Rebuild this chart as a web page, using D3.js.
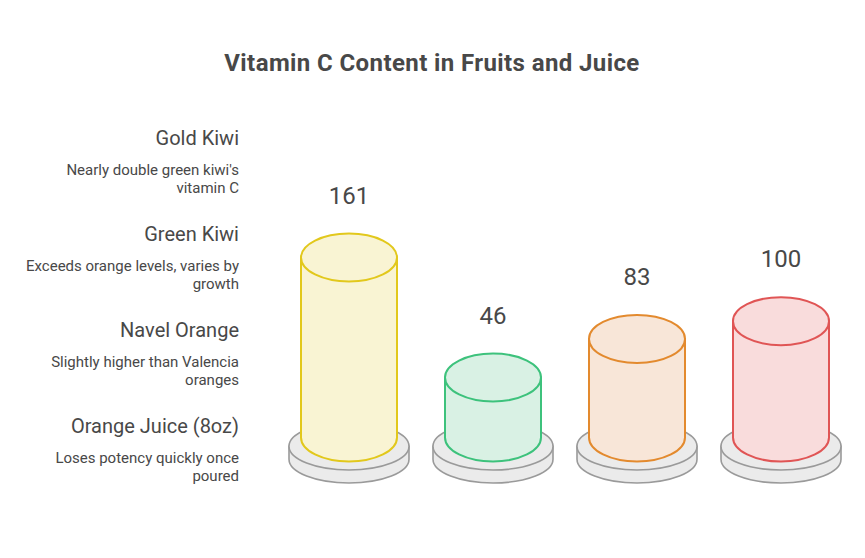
<!DOCTYPE html>
<html>
<head>
<meta charset="utf-8">
<script src="https://cdn.jsdelivr.net/npm/d3@7"></script>
<style>
  body { margin: 0; background: #fff; }
  svg text { font-family: Roboto, "Noto Sans", sans-serif; }
</style>
</head>
<body>
<svg id="chart"></svg>
<script>
var categories = ["Gold Kiwi", "Green Kiwi", "Navel Orange", "Orange Juice (8oz)"];
var values = [161, 46, 83, 100];
var notes = [
  ["Nearly double green kiwi's", "vitamin C"],
  ["Exceeds orange levels, varies by", "growth"],
  ["Slightly higher than Valencia", "oranges"],
  ["Loses potency quickly once", "poured"]
];
var strokes = ["#e2c81c", "#3dc27c", "#e38a2e", "#e05555"];
var fills = ["#f9f4d3", "#d9f1e4", "#f8e6d8", "#f9dcdc"];

var width = 865;
var height = 558;
var base = 437.5;   // centre of cylinder bottoms
var rx = 48, ry = 24;

var svg = d3.select("#chart")
            .attr("width", width)
            .attr("height", height);

svg.append("text")
   .attr("x", 432)
   .attr("y", 71)
   .attr("text-anchor", "middle")
   .attr("font-size", 24)
   .attr("font-weight", "bold")
   .attr("letter-spacing", 0.4)
   .attr("fill", "#484848")
   .text("Vitamin C Content in Fruits and Juice");

var x = d3.scalePoint()
          .domain(categories)
          .range([349, 781]);

var y = d3.scaleLinear()
          .domain([0, 161])
          .range([base - 12, base - 180]);

// left side labels
var ly = d3.scalePoint()
           .domain(categories)
           .range([145, 433]);

var labels = svg.append("g").selectAll("g")
                .data(categories)
                .enter().append("g");

labels.append("text")
      .attr("x", 239)
      .attr("y", function(d){ return ly(d); })
      .attr("text-anchor", "end")
      .attr("font-size", 20)
      .attr("fill", "#484848")
      .text(function(d){ return d; });

labels.each(function(d, i){
  d3.select(this).selectAll(".note")
    .data(notes[i])
    .enter().append("text")
    .attr("class", "note")
    .attr("x", 239)
    .attr("y", function(t, j){ return ly(d) + 30 + j * 17.5; })
    .attr("text-anchor", "end")
    .attr("font-size", 15)
    .attr("fill", "#484848")
    .text(function(t){ return t; });
});

// discs under each cylinder
var drx = 60, dry = 23.7, dcy = 446.3, thick = 13;

function discPath(cx){
  return "M" + (cx - drx) + "," + dcy +
         " L" + (cx - drx) + "," + (dcy + thick) +
         " A" + drx + "," + dry + " 0 0 0 " + (cx + drx) + "," + (dcy + thick) +
         " L" + (cx + drx) + "," + dcy + " Z";
}

var discs = svg.append("g").selectAll("g")
               .data(categories)
               .enter().append("g");

discs.append("path")
     .attr("d", function(d){ return discPath(x(d)); })
     .attr("fill", "#ebebeb")
     .attr("stroke", "#9a9a9a")
     .attr("stroke-width", 1.6);

discs.append("ellipse")
     .attr("cx", function(d){ return x(d); })
     .attr("cy", dcy)
     .attr("rx", drx)
     .attr("ry", dry)
     .attr("fill", "#ebebeb")
     .attr("stroke", "#9a9a9a")
     .attr("stroke-width", 1.6);

// cylinders
var cyl = svg.append("g").selectAll("g")
             .data(values)
             .enter().append("g");

cyl.append("path")
   .attr("d", function(d, i){
     var cx = x(categories[i]);
     var top = y(d);
     return "M" + (cx - rx) + "," + top +
            " L" + (cx - rx) + "," + base +
            " A" + rx + "," + ry + " 0 0 0 " + (cx + rx) + "," + base +
            " L" + (cx + rx) + "," + top + " Z";
   })
   .attr("fill", function(d, i){ return fills[i]; })
   .attr("stroke", function(d, i){ return strokes[i]; })
   .attr("stroke-width", 2);

cyl.append("ellipse")
   .attr("cx", function(d, i){ return x(categories[i]); })
   .attr("cy", function(d){ return y(d); })
   .attr("rx", rx)
   .attr("ry", ry)
   .attr("fill", function(d, i){ return fills[i]; })
   .attr("stroke", function(d, i){ return strokes[i]; })
   .attr("stroke-width", 2);

cyl.append("text")
   .attr("x", function(d, i){ return x(categories[i]); })
   .attr("y", function(d){ return y(d) - ry - 30; })
   .attr("text-anchor", "middle")
   .attr("font-size", 24)
   .attr("fill", "#484848")
   .text(function(d){ return d; });
</script>
</body>
</html>
